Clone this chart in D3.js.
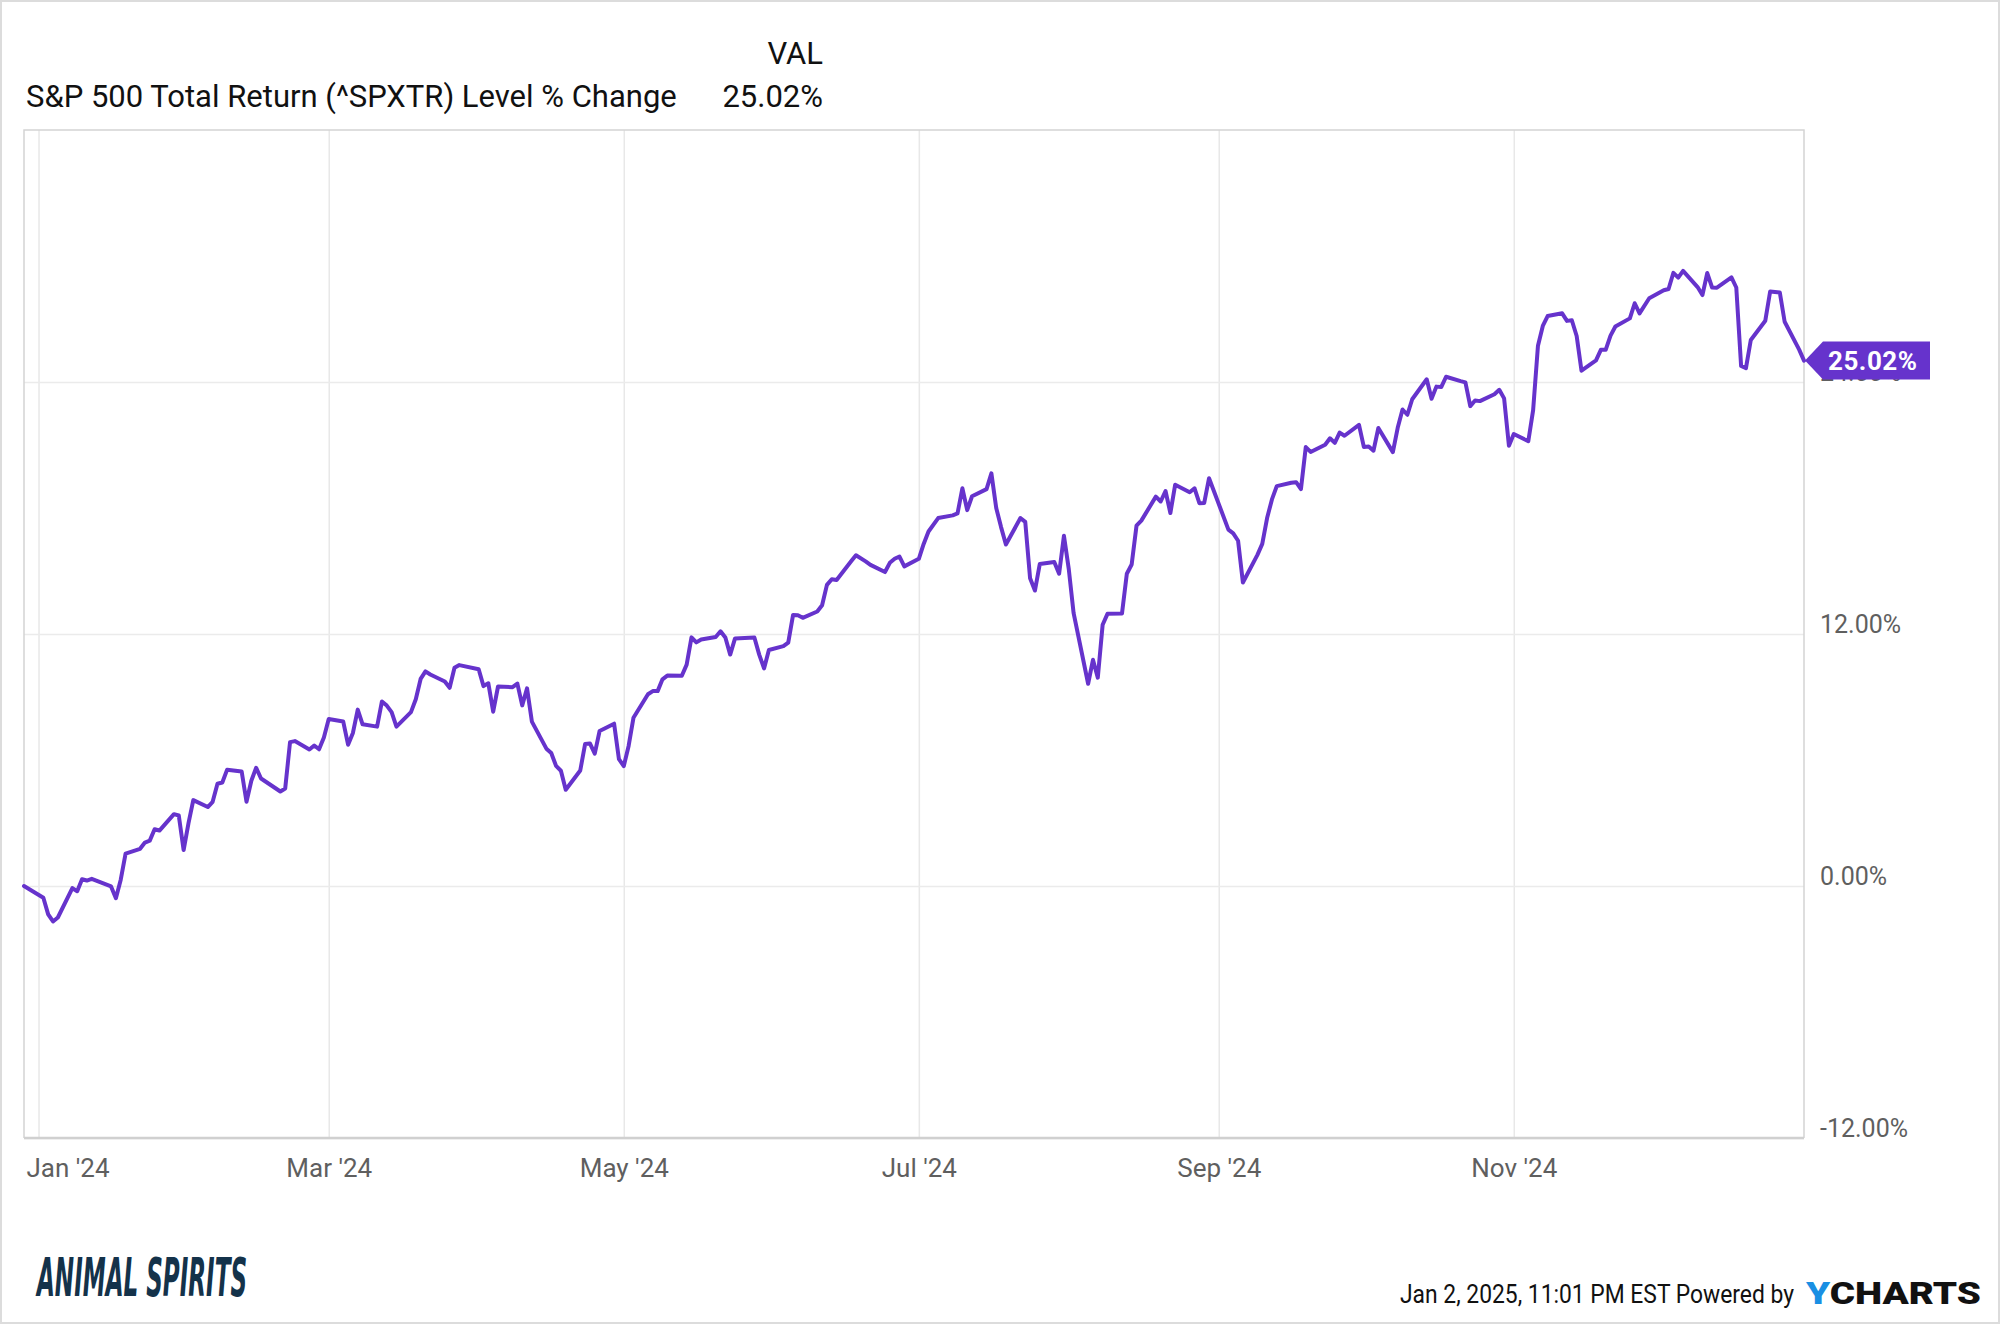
<!DOCTYPE html>
<html>
<head>
<meta charset="utf-8">
<script src="https://cdn.jsdelivr.net/npm/d3@7"></script>
<style>
body { margin: 0; background: #fff; }
svg { display: block; }
text { font-family: Roboto, "Noto Sans", sans-serif; }
</style>
</head>
<body>
<svg id="chart" width="2000" height="1324"></svg>
<script>
var seriesName = "S&P 500 Total Return (^SPXTR) Level % Change";
var lastLabel = "25.02%";
var footerText = "Jan 2, 2025, 11:01 PM EST Powered by";

var monthTicks = ["2024-01-01", "2024-03-01", "2024-05-01", "2024-07-01", "2024-09-01", "2024-11-01"];
var yTicks = [-12, 0, 12, 24];

var dates = [
  "2023-12-29",
  "2024-01-02","2024-01-03","2024-01-04","2024-01-05","2024-01-08","2024-01-09","2024-01-10","2024-01-11","2024-01-12",
  "2024-01-16","2024-01-17","2024-01-18","2024-01-19","2024-01-22","2024-01-23","2024-01-24","2024-01-25","2024-01-26",
  "2024-01-29","2024-01-30","2024-01-31",
  "2024-02-01","2024-02-02","2024-02-05","2024-02-06","2024-02-07","2024-02-08","2024-02-09","2024-02-12","2024-02-13",
  "2024-02-14","2024-02-15","2024-02-16","2024-02-20","2024-02-21","2024-02-22","2024-02-23","2024-02-26","2024-02-27",
  "2024-02-28","2024-02-29",
  "2024-03-01","2024-03-04","2024-03-05","2024-03-06","2024-03-07","2024-03-08","2024-03-11","2024-03-12","2024-03-13",
  "2024-03-14","2024-03-15","2024-03-18","2024-03-19","2024-03-20","2024-03-21","2024-03-22","2024-03-25","2024-03-26",
  "2024-03-27","2024-03-28",
  "2024-04-01","2024-04-02","2024-04-03","2024-04-04","2024-04-05","2024-04-08","2024-04-09","2024-04-10","2024-04-11",
  "2024-04-12","2024-04-15","2024-04-16","2024-04-17","2024-04-18","2024-04-19","2024-04-22","2024-04-23","2024-04-24",
  "2024-04-25","2024-04-26","2024-04-29","2024-04-30",
  "2024-05-01","2024-05-02","2024-05-03","2024-05-06","2024-05-07","2024-05-08","2024-05-09","2024-05-10","2024-05-13",
  "2024-05-14","2024-05-15","2024-05-16","2024-05-17","2024-05-20","2024-05-21","2024-05-22","2024-05-23","2024-05-24",
  "2024-05-28","2024-05-29","2024-05-30","2024-05-31",
  "2024-06-03","2024-06-04","2024-06-05","2024-06-06","2024-06-07","2024-06-10","2024-06-11","2024-06-12","2024-06-13",
  "2024-06-14","2024-06-17","2024-06-18","2024-06-20","2024-06-21","2024-06-24","2024-06-25","2024-06-26","2024-06-27",
  "2024-06-28",
  "2024-07-01","2024-07-02","2024-07-03","2024-07-05","2024-07-08","2024-07-09","2024-07-10","2024-07-11","2024-07-12",
  "2024-07-15","2024-07-16","2024-07-17","2024-07-18","2024-07-19","2024-07-22","2024-07-23","2024-07-24","2024-07-25",
  "2024-07-26","2024-07-29","2024-07-30","2024-07-31",
  "2024-08-01","2024-08-02","2024-08-05","2024-08-06","2024-08-07","2024-08-08","2024-08-09","2024-08-12","2024-08-13",
  "2024-08-14","2024-08-15","2024-08-16","2024-08-19","2024-08-20","2024-08-21","2024-08-22","2024-08-23","2024-08-26",
  "2024-08-27","2024-08-28","2024-08-29","2024-08-30",
  "2024-09-03","2024-09-04","2024-09-05","2024-09-06","2024-09-09","2024-09-10","2024-09-11","2024-09-12","2024-09-13",
  "2024-09-16","2024-09-17","2024-09-18","2024-09-19","2024-09-20","2024-09-23","2024-09-24","2024-09-25","2024-09-26",
  "2024-09-27","2024-09-30",
  "2024-10-01","2024-10-02","2024-10-03","2024-10-04","2024-10-07","2024-10-08","2024-10-09","2024-10-10","2024-10-11",
  "2024-10-14","2024-10-15","2024-10-16","2024-10-17","2024-10-18","2024-10-21","2024-10-22","2024-10-23","2024-10-24",
  "2024-10-25","2024-10-28","2024-10-29","2024-10-30","2024-10-31",
  "2024-11-01","2024-11-04","2024-11-05","2024-11-06","2024-11-07","2024-11-08","2024-11-11","2024-11-12","2024-11-13",
  "2024-11-14","2024-11-15","2024-11-18","2024-11-19","2024-11-20","2024-11-21","2024-11-22","2024-11-25","2024-11-26",
  "2024-11-27","2024-11-29",
  "2024-12-02","2024-12-03","2024-12-04","2024-12-05","2024-12-06","2024-12-09","2024-12-10","2024-12-11","2024-12-12",
  "2024-12-13","2024-12-16","2024-12-17","2024-12-18","2024-12-19","2024-12-20","2024-12-23","2024-12-24","2024-12-26",
  "2024-12-27","2024-12-30","2024-12-31"
];

var values = [
  0.00,
  -0.56, -1.35, -1.69, -1.50, -0.10, -0.25, 0.32, 0.26, 0.34,
  -0.02, -0.58, 0.30, 1.54, 1.77, 2.07, 2.16, 2.70, 2.64,
  3.42, 3.36, 1.71,
  2.98, 4.09, 3.76, 4.01, 4.87, 4.93, 5.54, 5.45, 4.01,
  5.01, 5.63, 5.12, 4.50, 4.64, 6.85, 6.90, 6.50, 6.69,
  6.51, 7.07,
  7.95, 7.83, 6.73, 7.29, 8.40, 7.70, 7.59, 8.79, 8.59,
  8.28, 7.59, 8.28, 8.89, 9.86, 10.22, 10.07, 9.74, 9.44,
  10.39, 10.52,
  10.32, 9.52, 9.65, 8.30, 9.50, 9.47, 9.64, 8.60, 9.41,
  7.83, 6.54, 6.33, 5.72, 5.49, 4.58, 5.50, 6.76, 6.79,
  6.30, 7.38, 7.73, 6.04,
  5.71, 6.67, 8.01, 9.13, 9.28, 9.28, 9.84, 10.02, 10.01,
  10.54, 11.84, 11.60, 11.74, 11.86, 12.13, 11.83, 11.02, 11.79,
  11.83, 11.02, 10.36, 11.24,
  11.42, 11.59, 12.91, 12.89, 12.77, 13.07, 13.37, 14.34, 14.61,
  14.57, 15.46, 15.75, 15.46, 15.29, 14.95, 15.39, 15.58, 15.69,
  15.22,
  15.58, 16.29, 16.88, 17.52, 17.65, 17.74, 18.94, 17.90, 18.56,
  18.90, 19.65, 18.00, 17.09, 16.26, 17.52, 17.34, 14.65, 14.07,
  15.33, 15.43, 14.87, 16.68,
  15.09, 12.99, 9.63, 10.77, 9.92, 12.44, 12.96, 12.98, 14.87,
  15.31, 17.16, 17.40, 18.54, 18.31, 18.81, 17.76, 19.11, 18.75,
  18.94, 18.23, 18.24, 19.42,
  16.97, 16.79, 16.44, 14.45, 15.77, 16.29, 17.52, 18.41, 19.04,
  19.20, 19.23, 18.90, 20.90, 20.67, 21.01, 21.32, 21.10, 21.59,
  21.44, 21.96,
  20.91, 20.93, 20.73, 21.81, 20.66, 21.82, 22.69, 22.44, 23.18,
  24.13, 23.20, 23.78, 23.76, 24.25, 24.04, 23.98, 22.85, 23.12,
  23.09, 23.42, 23.63, 23.22, 20.96,
  21.52, 21.18, 22.66, 25.73, 26.67, 27.14, 27.27, 26.91, 26.94,
  26.19, 24.54, 25.03, 25.53, 25.53, 26.21, 26.64, 27.03, 27.75,
  27.27, 27.99,
  28.37, 28.43, 29.20, 28.97, 29.29, 28.52, 28.14, 29.19, 28.50,
  28.49, 28.98, 28.50, 24.76, 24.66, 26.00, 26.92, 28.31, 28.26,
  26.87, 25.54, 25.02
];

var parseDate = d3.timeParse("%Y-%m-%d");
var data = dates.map(function(d, i) { return { date: parseDate(d), value: values[i] }; });

var svg = d3.select("#chart");
var lineColor = "#6633cc";

var plotLeft = 24, plotRight = 1804, plotTop = 130, plotBottom = 1138;

// outer frame of the picture
svg.append("rect")
  .attr("x", 1).attr("y", 1).attr("width", 1998).attr("height", 1322)
  .attr("fill", "#fff").attr("stroke", "#dcdcdc").attr("stroke-width", 2);

var x = d3.scaleTime()
  .domain([parseDate("2023-12-29"), parseDate("2024-12-31")])
  .range([plotLeft, plotRight]);

var y = d3.scaleLinear()
  .domain([-12, 36])
  .range([plotBottom, plotTop]);

// vertical grid
var xGrid = svg.append("g")
  .attr("transform", "translate(0," + plotBottom + ")")
  .call(d3.axisBottom(x)
    .tickValues(monthTicks.map(parseDate))
    .tickSize(-(plotBottom - plotTop))
    .tickFormat(""));
xGrid.select(".domain").remove();
xGrid.selectAll("line").attr("stroke", "#e8e8e8").attr("stroke-width", 1.5);

// horizontal grid
var yGrid = svg.append("g")
  .attr("transform", "translate(" + plotLeft + ",0)")
  .call(d3.axisRight(y)
    .tickValues(yTicks)
    .tickSize(plotRight - plotLeft)
    .tickFormat(""));
yGrid.select(".domain").remove();
yGrid.selectAll("line").attr("stroke", "#ebebeb").attr("stroke-width", 1.5);

// plot frame
svg.append("path")
  .attr("d", "M" + plotLeft + "," + plotBottom + "V" + plotTop + "H" + plotRight + "V" + plotBottom)
  .attr("fill", "none").attr("stroke", "#d4d4d4").attr("stroke-width", 1.5);
svg.append("line")
  .attr("x1", plotLeft).attr("x2", plotRight).attr("y1", plotBottom).attr("y2", plotBottom)
  .attr("stroke", "#d0d0d0").attr("stroke-width", 2.5);

// x labels
var xAxis = svg.append("g")
  .attr("transform", "translate(0," + plotBottom + ")")
  .call(d3.axisBottom(x)
    .tickValues(monthTicks.map(parseDate))
    .tickSize(0)
    .tickPadding(21)
    .tickFormat(d3.timeFormat("%b '%y")));
xAxis.select(".domain").remove();
xAxis.selectAll("text")
  .attr("fill", "#5f5f5f")
  .style("font-size", "26px")
  .style("font-family", "Roboto");
xAxis.select(".tick text")
  .attr("text-anchor", "start")
  .attr("x", plotLeft + 2 - x(parseDate(monthTicks[0])));

// y labels
var yAxis = svg.append("g")
  .attr("transform", "translate(" + plotRight + ",0)")
  .call(d3.axisRight(y)
    .tickValues(yTicks)
    .tickSize(0)
    .tickPadding(16)
    .tickFormat(function(d) { return d.toFixed(2) + "%"; }));
yAxis.select(".domain").remove();
yAxis.selectAll("text")
  .attr("fill", "#5f5f5f")
  .attr("dy", "-0.05em")
  .attr("y", 0)
  .style("font-size", "25px")
  .style("font-family", "Roboto");

// the series
var line = d3.line()
  .x(function(d) { return x(d.date); })
  .y(function(d) { return y(d.value); });

svg.append("path")
  .datum(data)
  .attr("d", line)
  .attr("fill", "none")
  .attr("stroke", lineColor)
  .attr("stroke-width", 4)
  .attr("stroke-linejoin", "round")
  .attr("stroke-linecap", "round");

// last value badge
var last = data[data.length - 1];
var bx = x(last.date), by = y(last.value);
svg.append("path")
  .attr("d", "M" + (bx + 1) + "," + by +
    "L" + (bx + 19) + "," + (by - 19) +
    "H" + (bx + 126) + "V" + (by + 19) +
    "H" + (bx + 19) + "Z")
  .attr("fill", lineColor);
svg.append("text")
  .attr("x", bx + 24).attr("y", by + 9)
  .attr("fill", "#fff")
  .style("font-size", "26px")
  .style("font-weight", "bold")
  .style("letter-spacing", "0.5px")
  .text(lastLabel);

// header
svg.append("text")
  .attr("x", 26).attr("y", 107)
  .attr("fill", "#111")
  .style("font-size", "31px")
  .text(seriesName);
svg.append("text")
  .attr("x", 823).attr("y", 64)
  .attr("text-anchor", "end")
  .attr("fill", "#111")
  .style("font-size", "31px")
  .text("VAL");
svg.append("text")
  .attr("x", 823).attr("y", 107)
  .attr("text-anchor", "end")
  .attr("fill", "#111")
  .style("font-size", "31px")
  .text(lastLabel);

// footer
svg.append("text")
  .attr("x", 37).attr("y", 1296)
  .attr("fill", "#14324a")
  .attr("textLength", 210)
  .attr("lengthAdjust", "spacingAndGlyphs")
  .style("font-family", "'DejaVu Sans Condensed', 'DejaVu Sans'")
  .style("font-size", "54px")
  .style("font-weight", "bold")
  .style("font-style", "italic")
  .text("ANIMAL SPIRITS");

svg.append("text")
  .attr("x", 1400).attr("y", 1303)
  .attr("textLength", 394)
  .attr("lengthAdjust", "spacingAndGlyphs")
  .attr("fill", "#111")
  .style("font-size", "26px")
  .text(footerText);

var logo = svg.append("text")
  .attr("x", 1806).attr("y", 1304)
  .attr("textLength", 175)
  .attr("lengthAdjust", "spacingAndGlyphs")
  .style("font-size", "32px")
  .style("font-weight", "900");
logo.append("tspan").attr("fill", "#1a8fe3").text("Y");
logo.append("tspan").attr("fill", "#111").text("CHARTS");
</script>
</body>
</html>
